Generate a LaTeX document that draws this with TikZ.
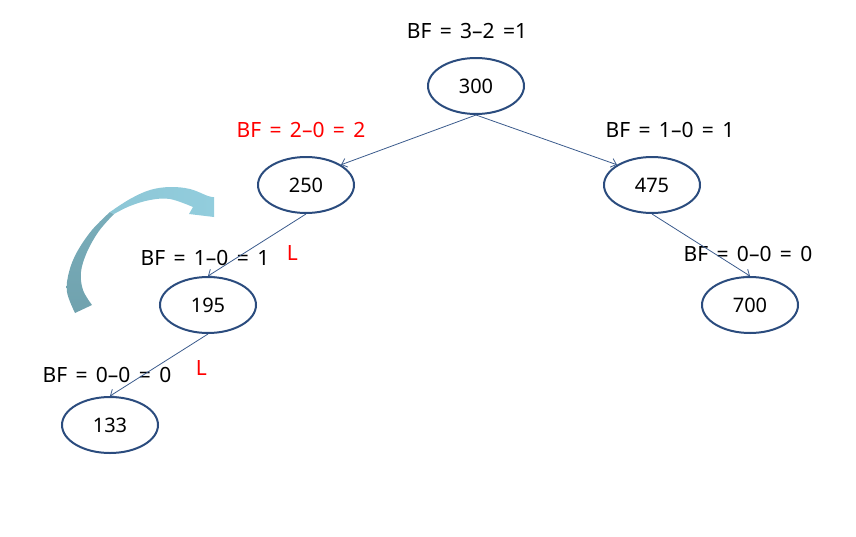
\documentclass[tikz,border=0pt]{standalone}
\usepackage{fontspec}
\setmainfont{Noto Sans}
\usepackage{xcolor}
\usepackage{tikz}
\usetikzlibrary{arrows.meta, positioning, shapes.geometric}
\definecolor{nodeblue}{HTML}{2B4C7E}
\definecolor{edgeblue}{HTML}{3B5B8C}
\definecolor{curvedark}{HTML}{70A2AE}
\definecolor{curvelight}{HTML}{92CDDD}
\newcommand{\bffont}{\fontsize{21}{25}\selectfont\spaceskip=0.4em\relax}
\tikzset{
    treenode/.style={ellipse, draw=nodeblue, line width=2pt, minimum width=96pt, minimum height=56pt, inner sep=0pt, font=\fontsize{20}{24}\selectfont},
    bflabel/.style={inner sep=0pt, font=\bffont},
    redlabel/.style={bflabel, text=red},
    arrow/.style={-{Straight Barb[length=5pt, width=9pt]}, draw=edgeblue, line width=0.8pt},
}

\begin{document}
\begin{tikzpicture}[x=1pt, y=-1pt]
    \useasboundingbox (0,0) rectangle (856,536);

    % Tree nodes
    \node[treenode] (n300) at (476,86) {300};
    \node[treenode, below=41pt of n300, xshift=-170pt] (n250) {250};
    \node[treenode, below=41pt of n300, xshift=176pt] (n475) {475};
    \node[treenode, below=62pt of n250, xshift=-98pt] (n195) {195};
    \node[treenode, below=62pt of n475, xshift=98pt] (n700) {700};
    \node[treenode, below=62pt of n195, xshift=-98pt] (n133) {133};

    % Balance factors
    \node[bflabel, above=18pt of n300, xshift=-9pt] (bf300) {BF = 3–2 =1};
    \node[redlabel, above=18pt of n250, xshift=-5pt] (bf250) {BF = 2–0 = 2};
    \node[bflabel, above=18pt of n475, xshift=18pt] (bf475) {BF = 1–0 = 1};
    \node[bflabel, above=10pt of n195, xshift=-3pt] (bf195) {BF = 1–0 = 1};
    \node[bflabel, above=14pt of n700, xshift=-2pt] (bf700) {BF = 0–0 = 0};
    \node[bflabel, above=13pt of n133, xshift=-3pt] (bf133) {BF = 0–0 = 0};

    % Left-left markers
    \node[redlabel, right=17pt of bf195, yshift=5pt] (l1) {L};
    \node[redlabel, right=24pt of bf133, yshift=7pt] (l2) {L};

    % Edges
    \draw[arrow] (n300.south) -- (n250.30);
    \draw[arrow] (n300.south) -- (n475.150);
    \draw[arrow] (n250.south) -- (n195.north);
    \draw[arrow] (n475.south) -- (n700.north);
    \draw[arrow] (n195.south) -- (n133.north);

    % Rotation arrow (dark lower half, light upper half with head)
    \shade[top color=curvedark!75!curvelight, bottom color=curvedark]
        plot[smooth, tension=0.6] coordinates {(75,313) (67,292) (69,272) (77,252) (92,230) (110,212)}
        -- plot[smooth, tension=0.6] coordinates {(114,214) (99,231) (87,252) (81,272) (83,290) (92,305)}
        -- cycle;
    \shade[left color=curvelight!85!curvedark, right color=curvelight]
        plot[smooth, tension=0.6] coordinates {(110,212) (130,199) (150,190) (170,187) (190,189) (208,196) (214,197)}
        -- (214,217) -- (189,214) -- (193,207)
        -- plot[smooth, tension=0.6] coordinates {(193,207) (170,199) (150,200) (130,206) (114,214)}
        -- cycle;
\end{tikzpicture}
\end{document}
